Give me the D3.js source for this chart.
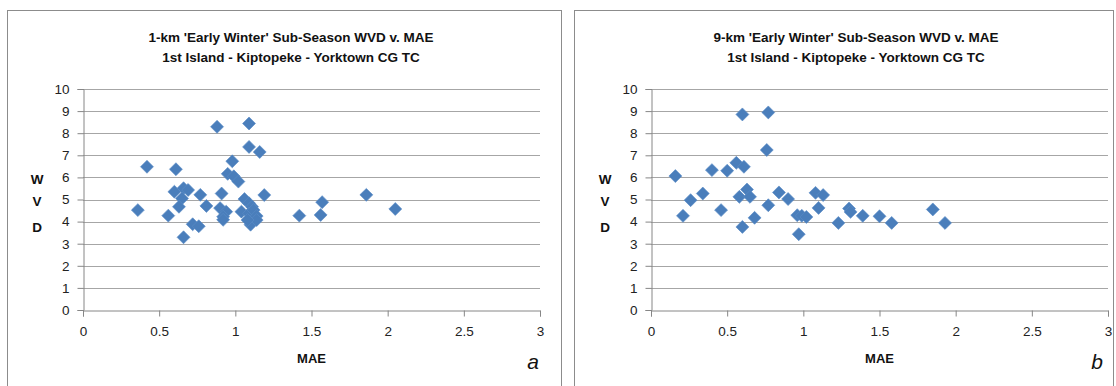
<!DOCTYPE html>
<html>
<head>
<meta charset="utf-8">
<script src="https://cdn.jsdelivr.net/npm/d3@7"></script>
<style>
  body { margin: 0; background: #fff; }
  svg { display: block; font-family: "Liberation Sans", Arial, sans-serif; }
</style>
</head>
<body>
<div class="chart"></div>
<script>
var svgWidth = 1116;
var svgHeight = 386;

// chart data
var titleA = ["1-km 'Early Winter' Sub-Season WVD v. MAE", "1st Island - Kiptopeke - Yorktown CG TC"];
var titleB = ["9-km 'Early Winter' Sub-Season WVD v. MAE", "1st Island - Kiptopeke - Yorktown CG TC"];

var maeA = [0.36, 0.42, 0.56, 0.61, 0.60, 0.66, 0.69, 0.65, 0.63, 0.66, 0.72, 0.76, 0.77, 0.81,
            0.88, 0.91, 0.90, 0.94, 0.92, 0.92, 0.95, 0.98, 0.99, 1.02, 1.09, 1.09, 1.16, 1.19,
            1.06, 1.04, 1.09, 1.11, 1.09, 1.12, 1.14, 1.10, 1.14, 1.08, 1.42, 1.56, 1.57, 1.86, 2.05];
var wvdA = [4.52, 6.48, 4.27, 6.37, 5.35, 5.51, 5.43, 5.05, 4.67, 3.29, 3.88, 3.79, 5.21, 4.71,
            8.29, 5.27, 4.61, 4.45, 4.22, 4.08, 6.16, 6.73, 6.05, 5.81, 8.44, 7.38, 7.15, 5.20,
            5.02, 4.45, 4.83, 4.67, 4.37, 4.52, 4.25, 3.86, 4.07, 4.07, 4.27, 4.30, 4.88, 5.21, 4.57];

var maeB = [0.16, 0.21, 0.26, 0.34, 0.40, 0.46, 0.50, 0.56, 0.60, 0.61, 0.58, 0.63, 0.65, 0.60,
            0.68, 0.76, 0.77, 0.77, 0.84, 0.90, 0.96, 0.97, 0.99, 1.02, 1.08, 1.10, 1.13, 1.23,
            1.30, 1.31, 1.39, 1.50, 1.58, 1.85, 1.93];
var wvdB = [6.06, 4.26, 4.97, 5.27, 6.33, 4.52, 6.30, 6.66, 8.85, 6.48, 5.12, 5.45, 5.12, 3.76,
            4.17, 7.24, 8.94, 4.74, 5.32, 5.02, 4.29, 3.43, 4.26, 4.21, 5.30, 4.62, 5.20, 3.94,
            4.59, 4.44, 4.26, 4.24, 3.94, 4.55, 3.94];

var xTicks = [0, 0.5, 1, 1.5, 2, 2.5, 3];
var yTicks = [0, 1, 2, 3, 4, 5, 6, 7, 8, 9, 10];
var xLabel = "MAE";
var yLabel = ["W", "V", "D"];

var svg = d3.select(".chart")
  .append("svg")
  .attr("width", svgWidth)
  .attr("height", svgHeight);

var diamond = d3.symbol().type(d3.symbolSquare).size(84);

function drawPanel(p) {
  // panel frame
  svg.append("rect")
    .attr("x", p.box[0] + 0.5).attr("y", p.box[1] + 0.5)
    .attr("width", p.box[2]).attr("height", p.box[3])
    .attr("fill", "#fff").attr("stroke", "#8c8c8c").attr("stroke-width", 1);

  var x = d3.scaleLinear().domain([0, 3]).range([p.left, p.right]);
  var y = d3.scaleLinear().domain([0, 10]).range([p.bottom, p.top]);

  var g = svg.append("g");

  // gridlines
  g.selectAll(".grid")
    .data(yTicks.filter(d => d > 0))
    .enter().append("line")
    .attr("x1", p.left).attr("x2", p.right)
    .attr("y1", d => Math.round(y(d)) + 0.5).attr("y2", d => Math.round(y(d)) + 0.5)
    .attr("stroke", "#a6a6a6").attr("stroke-width", 1);

  var leftAxis = d3.axisLeft(y).tickValues(yTicks).tickSize(6).tickPadding(8).tickFormat(d3.format("d"));
  var bottomAxis = d3.axisBottom(x).tickValues(xTicks).tickSize(6).tickPadding(10).tickFormat(d => String(d));

  var ya = g.append("g")
    .attr("transform", `translate(${p.left + 0.5}, 0)`)
    .call(leftAxis);
  var xa = g.append("g")
    .attr("transform", `translate(0, ${Math.round(p.bottom) + 0.5})`)
    .call(bottomAxis);
  [ya, xa].forEach(function (a) {
    a.select(".domain").attr("stroke", "#868686");
    a.selectAll(".tick line").attr("stroke", "#868686");
    a.selectAll(".tick text").attr("fill", "#222").style("font-size", "13.5px");
  });

  // points
  g.selectAll(".pt")
    .data(p.mae.map((m, i) => [m, p.wvd[i]]))
    .enter().append("path")
    .attr("d", diamond)
    .attr("transform", d => `translate(${x(d[0])}, ${y(d[1])}) rotate(45)`)
    .attr("fill", "#4a7ebb")
    .attr("stroke", "#5b8cc6")
    .attr("stroke-width", 0.6);

  // titles
  g.selectAll(".title")
    .data(p.title)
    .enter().append("text")
    .attr("x", p.titleX)
    .attr("y", (d, i) => 42 + i * 20)
    .attr("text-anchor", "middle")
    .style("font-size", "13.5px")
    .style("font-weight", "bold")
    .attr("fill", "#111")
    .text(d => d);

  g.append("text")
    .attr("x", (p.left + p.right) / 2)
    .attr("y", 363)
    .attr("text-anchor", "middle")
    .style("font-size", "13px")
    .style("font-weight", "bold")
    .attr("fill", "#111")
    .text(xLabel);

  g.selectAll(".ylab")
    .data(yLabel)
    .enter().append("text")
    .attr("x", p.yLabX)
    .attr("y", (d, i) => [184, 206, 232][i])
    .attr("text-anchor", "middle")
    .style("font-size", "13.5px")
    .style("font-weight", "bold")
    .attr("fill", "#111")
    .text(d => d);

  g.append("text")
    .attr("x", p.tagX)
    .attr("y", 369)
    .attr("text-anchor", "middle")
    .style("font-size", "21px")
    .style("font-style", "italic")
    .attr("fill", "#111")
    .text(p.tag);
}

drawPanel({
  box: [7, 10, 554, 390], left: 83, right: 540, top: 89, bottom: 310,
  mae: maeA, wvd: wvdA, title: titleA, titleX: 291, yLabX: 37, tagX: 533, tag: "a"
});
drawPanel({
  box: [574, 10, 539, 390], left: 651, right: 1108, top: 89, bottom: 310,
  mae: maeB, wvd: wvdB, title: titleB, titleX: 856, yLabX: 605, tagX: 1097, tag: "b"
});
</script>
</body>
</html>
